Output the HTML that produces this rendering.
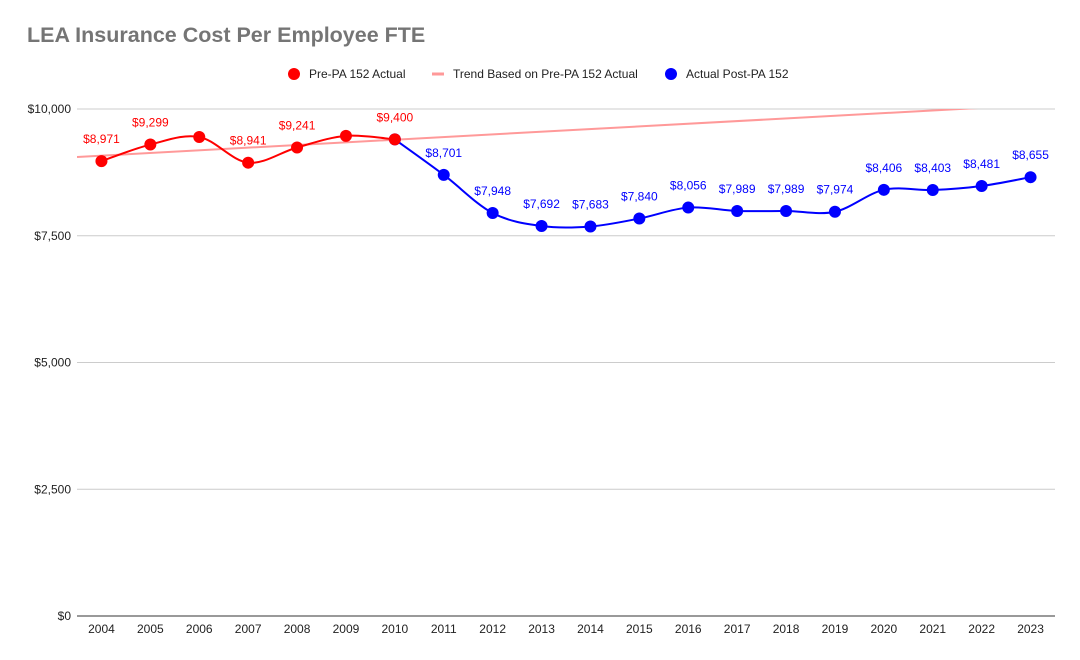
<!DOCTYPE html>
<html><head><meta charset="utf-8"><style>
body{margin:0;background:#fff;font-family:"Liberation Sans",Arial,sans-serif}
svg{display:block}
</style></head><body>
<svg id="c" width="1080" height="660" xmlns="http://www.w3.org/2000/svg">
<text x="27" y="42" font-size="21.5" font-weight="bold" fill="#757575">LEA Insurance Cost Per Employee FTE</text>
<g>
<circle cx="294" cy="74" r="6" fill="#ff0000"/>
<text x="309" y="78" font-size="12" fill="#222">Pre-PA 152 Actual</text>
<line x1="432" y1="74" x2="444" y2="74" stroke="#f99" stroke-width="3"/>
<text x="453" y="78" font-size="12" fill="#222">Trend Based on Pre-PA 152 Actual</text>
<circle cx="671" cy="74" r="6" fill="#0000ff"/>
<text x="686" y="78" font-size="12" fill="#222">Actual Post-PA 152</text>
</g>
<defs><clipPath id="pc"><rect x="77" y="109" width="978" height="507"/></clipPath></defs>
<g id="grid"></g><g id="marks"></g>
</svg>
<script>
const categories=["2004","2005","2006","2007","2008","2009","2010","2011","2012","2013","2014","2015","2016","2017","2018","2019","2020","2021","2022","2023"];
const preValues=[8971,9299,9448,8941,9241,9470,9400];
const preLabels=["$8,971","$9,299","","$8,941","$9,241","","$9,400"];
const postValues=[9400,8701,7948,7692,7683,7840,8056,7989,7989,7974,8406,8403,8481,8655];
const postLabels=["","$8,701","$7,948","$7,692","$7,683","$7,840","$8,056","$7,989","$7,989","$7,974","$8,406","$8,403","$8,481","$8,655"];
const trendEnds=[9080,10076];
const yTicks=[0,2500,5000,7500,10000];
const yTickLabels=["$0","$2,500","$5,000","$7,500","$10,000"];
const L=77,R=1055,T=109,B=616,yMax=10000;
const band=(R-L)/categories.length;
const x=i=>L+band*(i+0.5);
const y=v=>B-(v/yMax)*(B-T);
const NS="http://www.w3.org/2000/svg";
const svg=document.getElementById('c'),grid=document.getElementById('grid'),marks=document.getElementById('marks');
function mk(tag,attrs,parent){const e=document.createElementNS(NS,tag);for(const k in attrs)e.setAttribute(k,attrs[k]);parent.appendChild(e);return e;}
yTicks.forEach((t,i)=>{
 const ln=mk('line',{x1:L,x2:R,y1:y(t),y2:y(t),stroke:i==0?'#333':'#ccc','stroke-width':1},grid);
 
 
 const tx=mk('text',{x:71,y:y(t)+4,'font-size':12,fill:'#222','text-anchor':'end'},grid);tx.textContent=yTickLabels[i];
 
 
});
categories.forEach((c,i)=>{
 const tx=mk('text',{x:x(i),y:633,'font-size':12,fill:'#222','text-anchor':'middle'},grid);tx.textContent=c;
 
 
});
const tr=mk('line',{x1:L,y1:y(trendEnds[0]-(trendEnds[1]-trendEnds[0])/19*0.5),x2:R,y2:y(trendEnds[1]+(trendEnds[1]-trendEnds[0])/19*0.5),stroke:'#f99','stroke-width':2,'clip-path':'url(#pc)'},marks);


function smooth(pts){let d=`M${pts[0][0]},${pts[0][1]}`;for(let i=0;i<pts.length-1;i++){const p0=pts[i-1]||pts[i],p1=pts[i],p2=pts[i+1],p3=pts[i+2]||p2;d+=` C${p1[0]+(p2[0]-p0[0])/6},${p1[1]+(p2[1]-p0[1])/6} ${p2[0]-(p3[0]-p1[0])/6},${p2[1]-(p3[1]-p1[1])/6} ${p2[0]},${p2[1]}`;}return d;}
function series(vals,labels,off,color,name){
 const pts=vals.map((v,i)=>[x(i+off),y(v)]);
 const p=mk('path',{d:smooth(pts),fill:'none',stroke:color,'stroke-width':2},marks);
 
 
 pts.forEach((q,i)=>{
  const c=mk('circle',{cx:q[0],cy:q[1],r:6,fill:color},marks);
  
  
  if(labels[i]){const t=mk('text',{x:q[0],y:q[1]-18,'font-size':12,fill:color,'text-anchor':'middle'},marks);t.textContent=labels[i];
  
  }
 });
}
series(postValues,postLabels,6,'#0000ff','post-pa152');
series(preValues,preLabels,0,'#ff0000','pre-pa152');
</script>
</body></html>
